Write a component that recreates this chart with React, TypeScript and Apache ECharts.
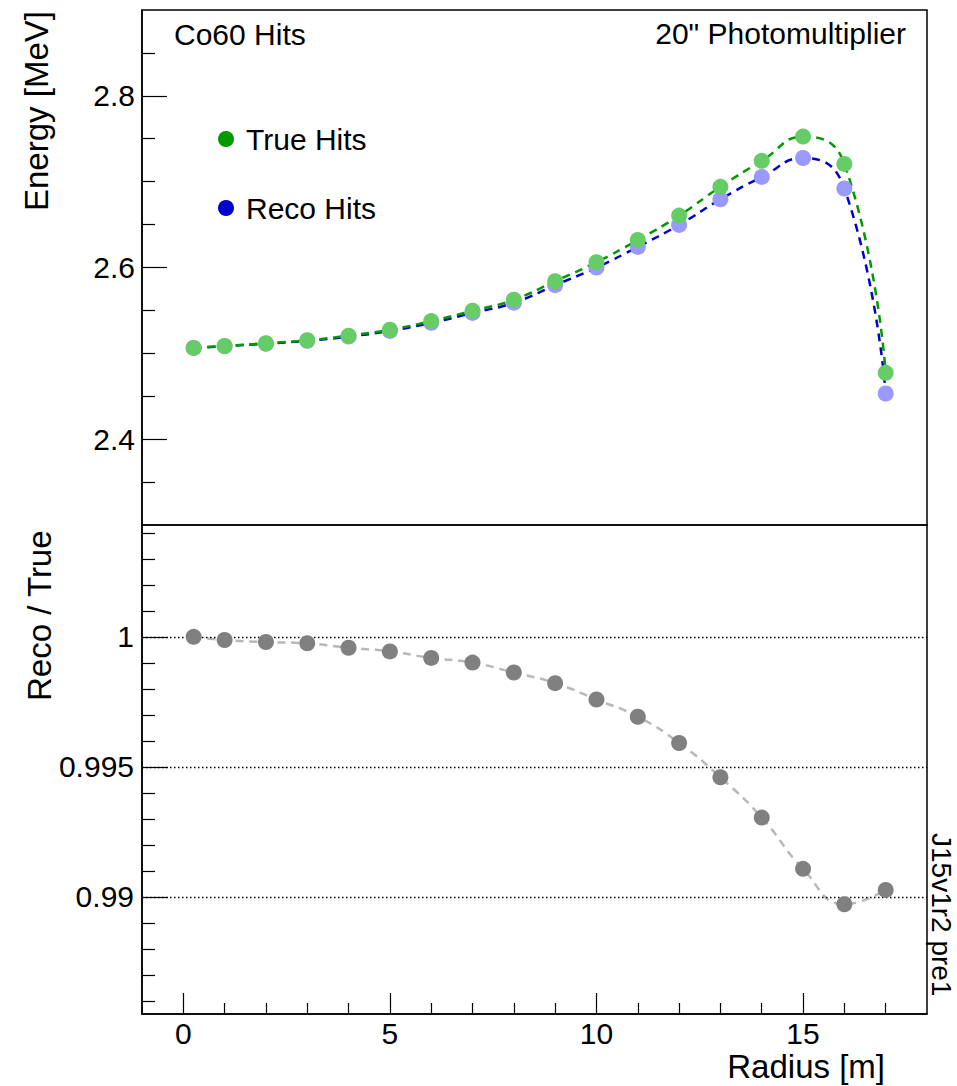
import React, { useEffect, useRef } from "react";
import * as echarts from "echarts";

// ---- data ----
const radius = [0.25, 1, 2, 3, 4, 5, 6, 7, 8, 9, 10, 11, 12, 13, 14, 15, 16, 17];
const trueHits = [2.5063, 2.5086, 2.5117, 2.5152, 2.5206, 2.5275, 2.5376, 2.5496, 2.5625, 2.584, 2.6062, 2.632, 2.6605, 2.694, 2.7243, 2.7525, 2.7207, 2.4773];
const recoHits = [2.5063, 2.5083, 2.5112, 2.5146, 2.5195, 2.5261, 2.5355, 2.5471, 2.559, 2.5794, 2.5999, 2.624, 2.6496, 2.6794, 2.7055, 2.7276, 2.692, 2.4532];
const ratio = [1.0, 0.99988, 0.9998, 0.99975, 0.99958, 0.99944, 0.99919, 0.99901, 0.99863, 0.99822, 0.99759, 0.99693, 0.99592, 0.9946, 0.99305, 0.99108, 0.98972, 0.99027];

const energyMajorTicks = [2.4, 2.6, 2.8];
const energyMinorTicks = [2.35, 2.45, 2.5, 2.55, 2.65, 2.7, 2.75, 2.85];
const ratioMajorTicks = [0.99, 0.995, 1];
const ratioMajorLabels = ["0.99", "0.995", "1"];
const ratioMinorTicks = [0.986, 0.987, 0.988, 0.989, 0.991, 0.992, 0.993, 0.994, 0.996, 0.997, 0.998, 0.999, 1.001, 1.002, 1.003, 1.004];
const radiusMajorTicks = [0, 5, 10, 15];
const radiusMinorTicks = [1, 2, 3, 4, 6, 7, 8, 9, 11, 12, 13, 14, 16, 17];
const ratioRefLines = [1, 0.995, 0.99];
const radiusRange = [-1, 18];

const FONT = '"Liberation Sans", Arial, Helvetica, sans-serif';

function txt(text: string, x: number, y: number, size: number, align: string, rotation = 0) {
  return {
    type: "text",
    x,
    y,
    rotation,
    silent: true,
    style: {
      text,
      font: `${size}px ${FONT}`,
      fill: "#000",
      align,
      textAlign: align,
      verticalAlign: "middle",
      textVerticalAlign: "middle",
    },
  };
}

export default function App() {
  const ref = useRef<HTMLDivElement>(null);

  useEffect(() => {
    if (!ref.current) return;
    const chart = echarts.init(ref.current, undefined, { renderer: "svg" });

    const black = { color: "#000", width: 1.5 };
    const tickStyle = { color: "#000", width: 1.2 };
    const labelStyle = { color: "#000", fontSize: 30, fontFamily: FONT };

    const trueData = radius.map((r, i) => [r, trueHits[i]]);
    const recoData = radius.map((r, i) => [r, recoHits[i]]);
    const ratioData = radius.map((r, i) => [r, ratio[i]]);

    const option: any = {
      animation: false,
      backgroundColor: "#fff",
      grid: [
        { left: 142, top: 10, width: 785, height: 515, show: true, borderColor: "#000", borderWidth: 1.5, backgroundColor: "transparent", containLabel: false, outerBoundsMode: "none" },
        { left: 142, top: 525, width: 785, height: 489, show: true, borderColor: "#000", borderWidth: 1.5, backgroundColor: "transparent", containLabel: false, outerBoundsMode: "none" },
      ],
      xAxis: [
        {
          gridIndex: 0, type: "value", min: radiusRange[0], max: radiusRange[1],
          axisLine: { show: false, onZero: false }, axisTick: { show: false },
          axisLabel: { show: false }, splitLine: { show: false },
        },
        {
          gridIndex: 1, type: "value", min: radiusRange[0], max: radiusRange[1], position: "bottom",
          axisLine: { show: true, onZero: false, lineStyle: black },
          axisTick: { show: true, inside: true, length: 11, customValues: radiusMinorTicks, lineStyle: tickStyle },
          axisLabel: { show: false }, splitLine: { show: false },
        },
        {
          gridIndex: 1, type: "value", min: radiusRange[0], max: radiusRange[1], position: "bottom",
          axisLine: { show: false, onZero: false },
          axisTick: { show: true, inside: true, length: 21, customValues: radiusMajorTicks, lineStyle: tickStyle },
          axisLabel: { show: true, customValues: radiusMajorTicks, margin: 4, ...labelStyle },
          splitLine: { show: false },
        },
      ],
      yAxis: [
        {
          gridIndex: 0, type: "value", min: 2.3, max: 2.9, position: "left",
          axisLine: { show: true, onZero: false, lineStyle: black },
          axisTick: { show: true, inside: true, length: 13, customValues: energyMinorTicks, lineStyle: tickStyle },
          axisLabel: { show: false }, splitLine: { show: false },
        },
        {
          gridIndex: 0, type: "value", min: 2.3, max: 2.9, position: "left",
          axisLine: { show: false, onZero: false },
          axisTick: { show: true, inside: true, length: 25, customValues: energyMajorTicks, lineStyle: tickStyle },
          axisLabel: { show: true, customValues: energyMajorTicks, margin: 7, formatter: (v: number) => v.toFixed(1), ...labelStyle },
          splitLine: { show: false },
        },
        {
          gridIndex: 1, type: "value", min: 0.9855, max: 1.0043, position: "left",
          axisLine: { show: true, onZero: false, lineStyle: black },
          axisTick: { show: true, inside: true, length: 13, customValues: ratioMinorTicks, lineStyle: tickStyle },
          axisLabel: { show: false }, splitLine: { show: false },
        },
        {
          gridIndex: 1, type: "value", min: 0.9855, max: 1.0043, position: "left",
          axisLine: { show: false, onZero: false },
          axisTick: { show: true, inside: true, length: 26, customValues: ratioMajorTicks, lineStyle: tickStyle },
          axisLabel: {
            show: true, customValues: ratioMajorTicks, margin: 8,
            formatter: (v: number) => {
              const i = ratioMajorTicks.findIndex((t) => Math.abs(t - v) < 1e-6);
              return i >= 0 ? ratioMajorLabels[i] : "";
            },
            ...labelStyle,
          },
          splitLine: { show: false },
        },
      ],
      legend: {
        orient: "vertical",
        left: 218,
        top: 124,
        padding: 0,
        icon: "circle",
        itemWidth: 30,
        itemHeight: 16,
        itemGap: 39,
        selectedMode: false,
        textStyle: { color: "#000", fontSize: 30, fontFamily: FONT },
        data: [
          { name: "True Hits", itemStyle: { color: "#009900", borderWidth: 0, opacity: 1 } },
          { name: "Reco Hits", itemStyle: { color: "#0000cc", borderWidth: 0, opacity: 1 } },
        ],
      },
      series: [
        {
          name: "Reco Hits fit", type: "line", xAxisIndex: 0, yAxisIndex: 0,
          data: recoData, smooth: 0.5, showSymbol: false, silent: true,
          lineStyle: { color: "#0000cc", width: 2.5, type: [8, 6] }, z: 2,
        },
        {
          name: "True Hits fit", type: "line", xAxisIndex: 0, yAxisIndex: 0,
          data: trueData, smooth: 0.5, showSymbol: false, silent: true,
          lineStyle: { color: "#009900", width: 2.5, type: [8, 6] }, z: 3,
        },
        {
          name: "Reco Hits", type: "scatter", xAxisIndex: 0, yAxisIndex: 0,
          data: recoData, symbol: "circle", symbolSize: 16,
          itemStyle: { color: "#9999ff", opacity: 1 }, z: 4,
        },
        {
          name: "True Hits", type: "scatter", xAxisIndex: 0, yAxisIndex: 0,
          data: trueData, symbol: "circle", symbolSize: 16,
          itemStyle: { color: "#66cc66", opacity: 1 }, z: 5,
        },
        {
          name: "Reco / True fit", type: "line", xAxisIndex: 1, yAxisIndex: 2,
          data: ratioData, smooth: 0.5, showSymbol: false, silent: true,
          lineStyle: { color: "#b8b8b8", width: 2.5, type: [8, 6] }, z: 3,
          markLine: {
            silent: true, symbol: "none", label: { show: false },
            lineStyle: { color: "#000", width: 1.3, type: [1.5, 2.5] },
            data: ratioRefLines.map((v) => [
              { coord: [radiusRange[0], v] },
              { coord: [radiusRange[1], v] },
            ]),
          },
        },
        {
          name: "Reco / True", type: "scatter", xAxisIndex: 1, yAxisIndex: 2,
          data: ratioData, symbol: "circle", symbolSize: 16,
          itemStyle: { color: "#808080", opacity: 1 }, z: 5,
        },
      ],
      graphic: [
        txt("Co60 Hits", 174, 34, 30, "left"),
        txt('20" Photomultiplier', 906, 33, 30, "right"),
        txt("Energy [MeV]", 36, 211, 33, "left", Math.PI / 2),
        txt("Reco / True", 39, 701, 33, "left", Math.PI / 2),
        txt("Radius [m]", 885, 1066, 33, "right"),
        txt("J15v1r2 pre1", 941, 833, 28, "left", -Math.PI / 2),
      ],
    };

    chart.setOption(option);
    return () => chart.dispose();
  }, []);

  return (
    <div
      ref={ref}
      style={{ position: "fixed", left: 0, top: 0, width: 957, height: 1086, background: "#fff" }}
    />
  );
}
